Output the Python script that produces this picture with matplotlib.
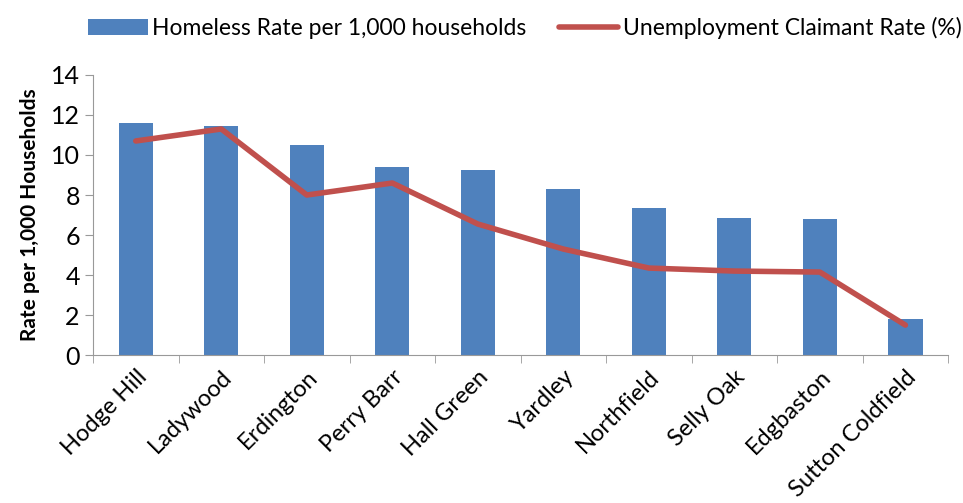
import numpy as np
import matplotlib.pyplot as plt

plt.rcParams['font.family'] = ['Lato', 'DejaVu Sans']

wards = ['Hodge Hill', 'Ladywood', 'Erdington', 'Perry Barr', 'Hall Green',
         'Yardley', 'Northfield', 'Selly Oak', 'Edgbaston', 'Sutton Coldfield']
homeless_rate = [11.6, 11.45, 10.5, 9.4, 9.25, 8.3, 7.35, 6.85, 6.8, 1.8]
claimant_rate = [10.7, 11.3, 8.0, 8.6, 6.55, 5.3, 4.35, 4.2, 4.15, 1.5]

fig = plt.figure(figsize=(9.63, 5.03), dpi=100)
ax = fig.add_axes([0.0966, 0.294, 0.888, 0.557])

x = np.arange(len(wards))
bars = ax.bar(x, homeless_rate, width=0.4, color='#4f81bd',
              label='Homeless Rate per 1,000 households')
line, = ax.plot(x, claimant_rate, color='#c0504d', lw=4, solid_capstyle='round',
                label='Unemployment Claimant Rate (%)')

ax.set_xlim(-0.5, len(wards) - 0.5)
ax.set_ylim(0, 14)
ax.set_yticks(range(0, 15, 2))
ax.set_xticks(x)
ax.set_xticklabels(wards, rotation=45, ha='right', rotation_mode='anchor',
                   fontsize=17, color='black')
ax.set_xticks(np.arange(-0.5, len(wards)), minor=True)
ax.tick_params(axis='x', which='major', length=0, pad=8)
ax.tick_params(axis='x', which='minor', length=6, color='#999999', direction='out')
ax.tick_params(axis='y', labelsize=18, length=6, color='#999999', labelcolor='black')

for side in ['top', 'right']:
    ax.spines[side].set_visible(False)
for side in ['left', 'bottom']:
    ax.spines[side].set_color('#999999')

ax.set_ylabel('Rate per 1,000 Households', fontsize=15, fontweight='bold',
              labelpad=8)

fig.legend(handles=[bars, line], loc='upper center', bbox_to_anchor=(0.545, 1.008),
           ncol=2, frameon=False, fontsize=16.5, handlelength=2.6,
           columnspacing=1.4, handletextpad=0.2)

fig.savefig('out.png', dpi=100)
